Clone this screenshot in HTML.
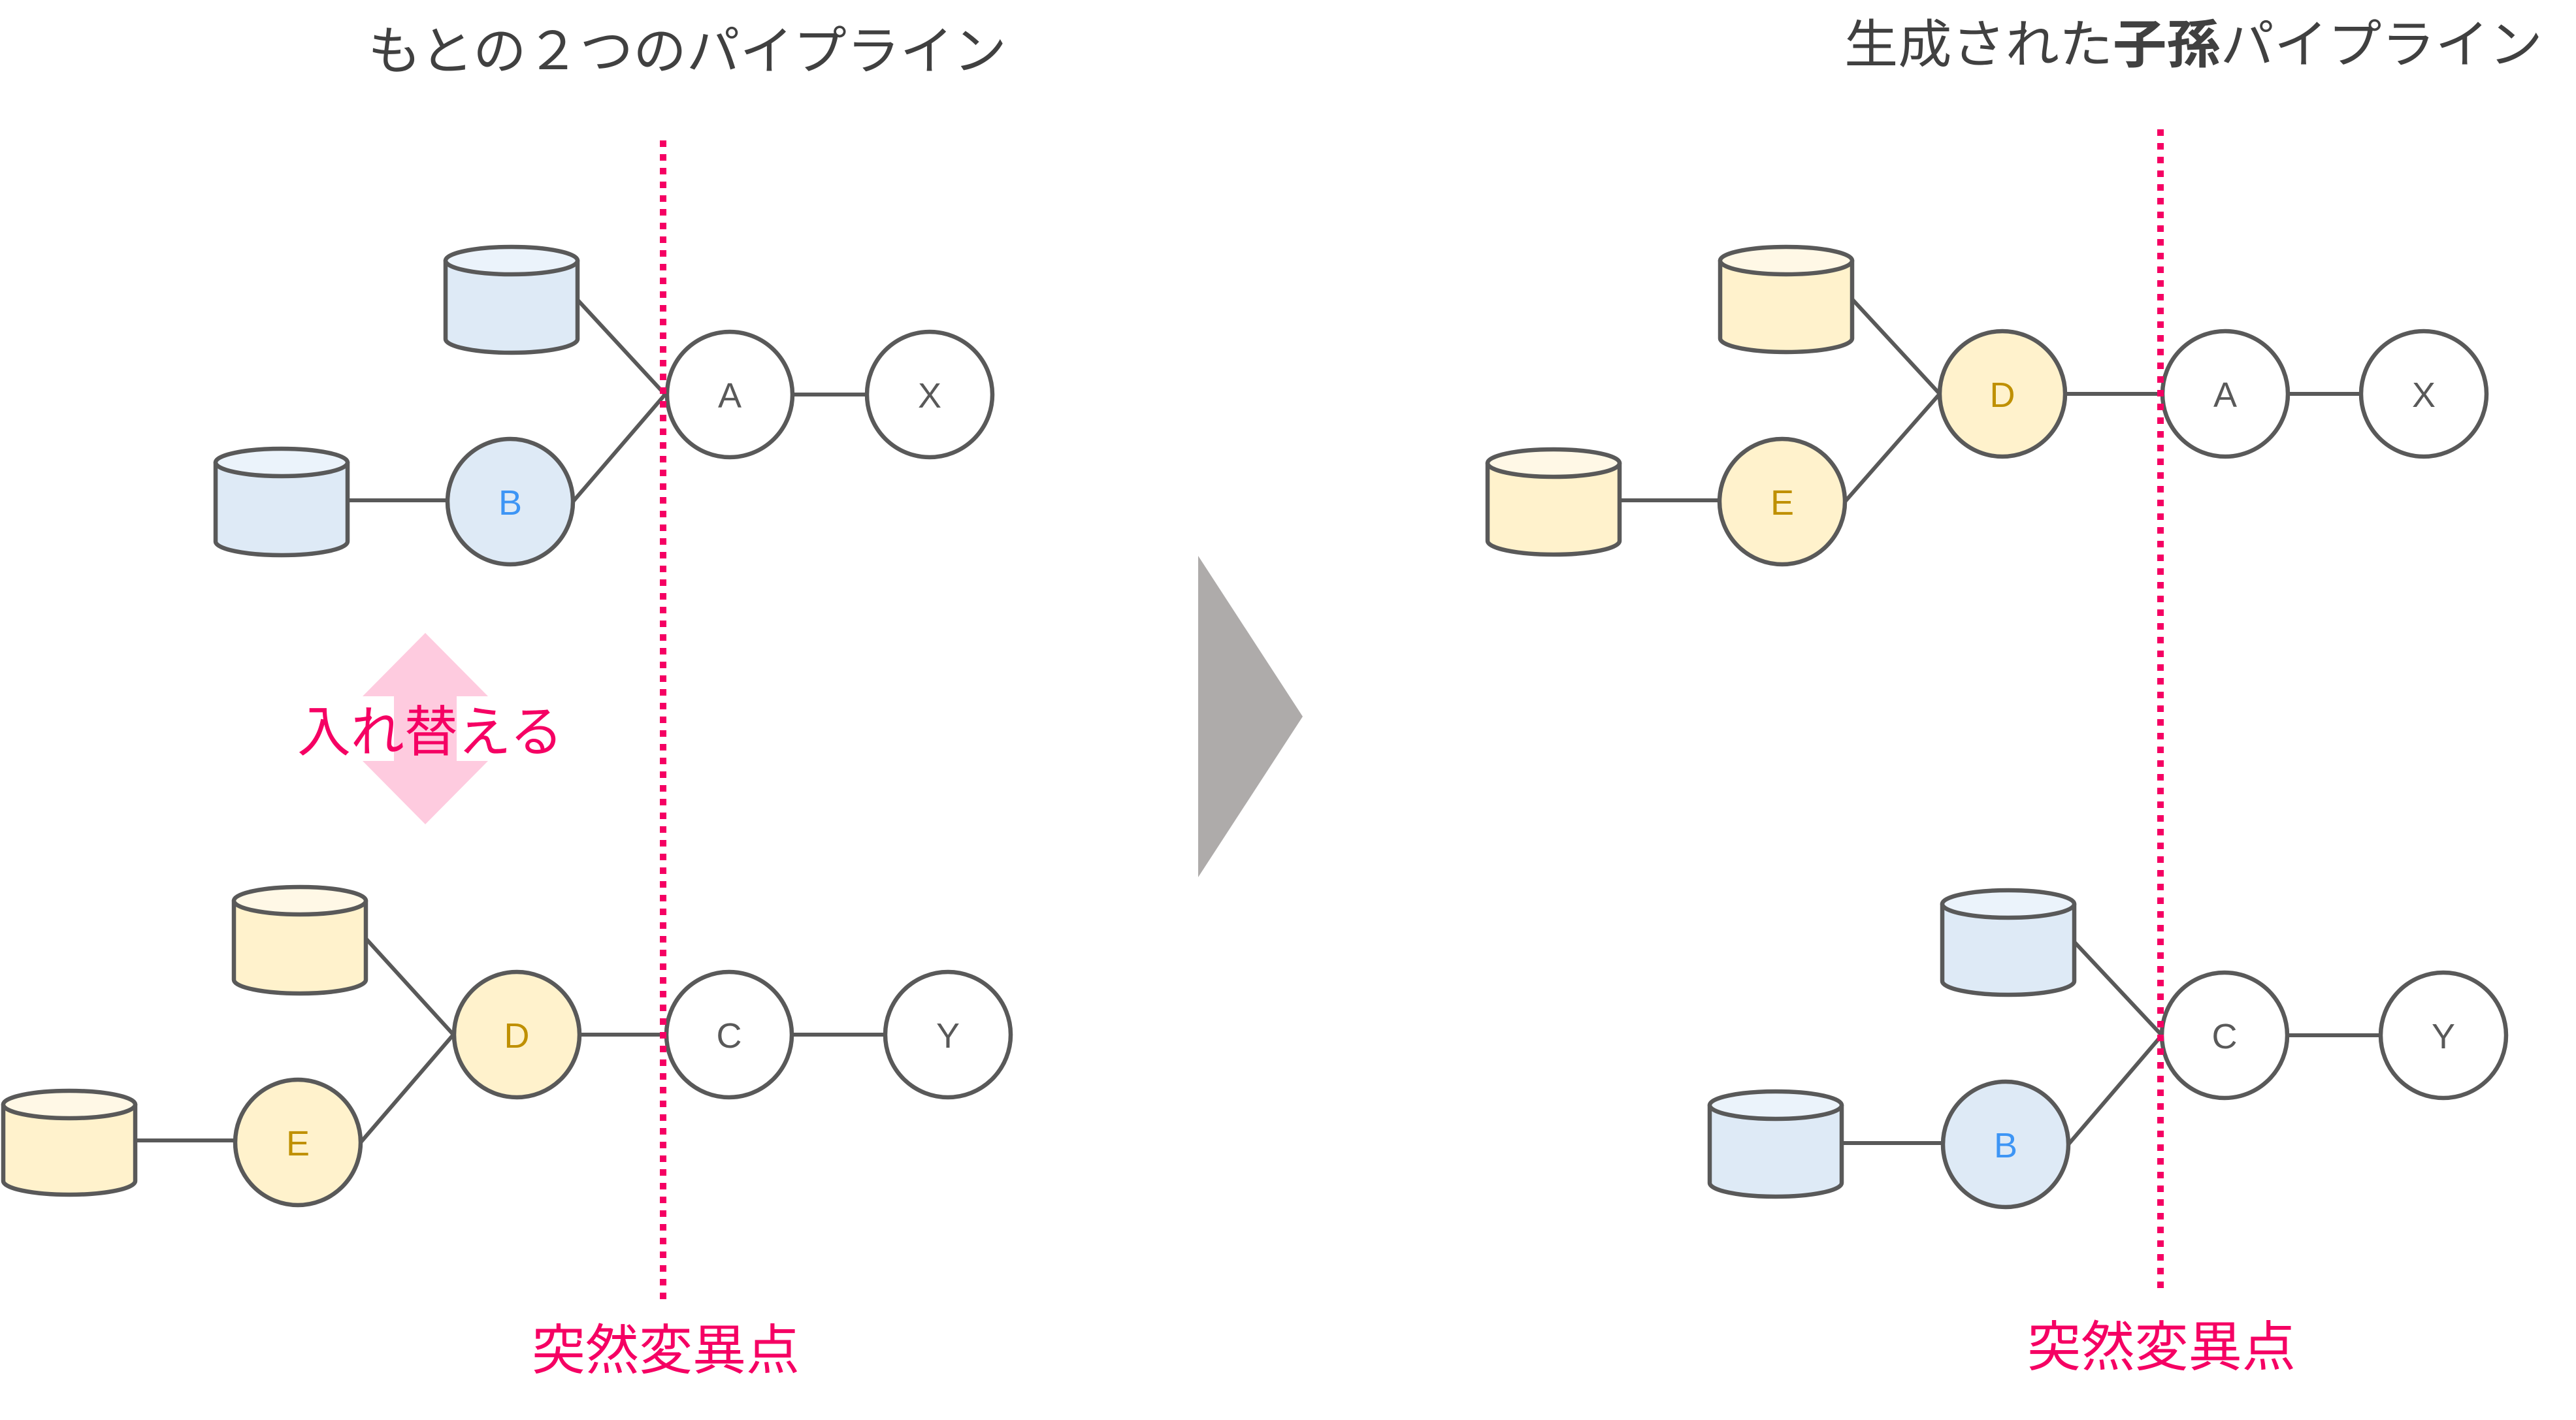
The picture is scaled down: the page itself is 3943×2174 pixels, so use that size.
<!DOCTYPE html>
<html>
<head>
<meta charset="utf-8">
<style>
  html, body { margin:0; padding:0; background:#ffffff; }
  svg { display:block; }
  .jp { font-family: "Liberation Sans", "Noto Sans CJK JP", sans-serif; }
  .lbl { font-family: "Liberation Sans", "Noto Sans CJK JP", sans-serif; font-size:54px; text-anchor:middle; }
</style>
</head>
<body>
<svg width="3943" height="2174" viewBox="0 0 3943 2174" xmlns="http://www.w3.org/2000/svg">
  <rect x="0" y="0" width="3943" height="2174" fill="#ffffff"/>

  <!-- Titles -->
  <text class="jp" x="563" y="106" font-size="80" fill="#404040" textLength="978" lengthAdjust="spacingAndGlyphs">もとの２つのパイプライン</text>
  <text class="jp" x="2823" y="96" font-size="80" fill="#404040" textLength="1069" lengthAdjust="spacingAndGlyphs">生成された<tspan font-weight="bold">子孫</tspan>パイプライン</text>

  <!-- Gray triangle -->
  <polygon points="1834,851 1994,1097 1834,1343" fill="#AEABAA"/>

  <!-- Pink double arrow -->
  <polygon points="651,969 747,1066 699,1066 699,1165 747,1165 651,1262 555,1165 603,1165 603,1066 555,1066" fill="#FECBDF"/>
  <text class="jp" x="455" y="1150" font-size="84" fill="#F50063" textLength="407" lengthAdjust="spacingAndGlyphs">入れ替える</text>

  <g stroke="#595959" stroke-width="6" fill="none" stroke-linecap="round" stroke-linejoin="round">
    <!-- ===== LEFT TOP ===== -->
    <line x1="884" y1="459" x2="1018" y2="604"/>
    <line x1="877" y1="768" x2="1018" y2="604"/>
    <line x1="532" y1="766" x2="685" y2="766"/>
    <line x1="1213" y1="604" x2="1327" y2="604"/>

    <!-- ===== LEFT BOTTOM ===== -->
    <line x1="561" y1="1438" x2="694" y2="1584"/>
    <line x1="552" y1="1749" x2="694" y2="1584"/>
    <line x1="207" y1="1746" x2="360" y2="1746"/>
    <line x1="887" y1="1584" x2="1020" y2="1584"/>
    <line x1="1212" y1="1584" x2="1355" y2="1584"/>

    <!-- ===== RIGHT TOP ===== -->
    <line x1="2835" y1="458" x2="2969" y2="603"/>
    <line x1="2824" y1="768" x2="2969" y2="603"/>
    <line x1="2479" y1="766" x2="2632" y2="766"/>
    <line x1="3161" y1="603" x2="3310" y2="603"/>
    <line x1="3502" y1="603" x2="3614" y2="603"/>

    <!-- ===== RIGHT BOTTOM ===== -->
    <line x1="3175" y1="1442" x2="3309" y2="1585"/>
    <line x1="3166" y1="1752" x2="3309" y2="1585"/>
    <line x1="2819" y1="1750" x2="2974" y2="1750"/>
    <line x1="3501" y1="1585" x2="3644" y2="1585"/>
  </g>

  <!-- Cylinders -->
  <g stroke="#595959" stroke-width="6.5" stroke-linejoin="round">
    <!-- Left top blue -->
    <path d="M682,399 L682,519 A101,21 0 0 0 884,519 L884,399 Z" fill="#DEEAF6"/>
    <ellipse cx="783" cy="399" rx="101" ry="21" fill="#EBF3FB"/>
    <!-- Left second blue -->
    <path d="M330,708 L330,829 A101,21 0 0 0 532,829 L532,708 Z" fill="#DEEAF6"/>
    <ellipse cx="431" cy="708" rx="101" ry="21" fill="#EBF3FB"/>

    <!-- Left yellow -->
    <path d="M358,1379 L358,1500 A101,21 0 0 0 560,1500 L560,1379 Z" fill="#FFF2CC"/>
    <ellipse cx="459" cy="1379" rx="101" ry="21" fill="#FFF8E6"/>
    <!-- Left bottom yellow -->
    <path d="M5,1691 L5,1808 A101,21 0 0 0 207,1808 L207,1691 Z" fill="#FFF2CC"/>
    <ellipse cx="106" cy="1691" rx="101" ry="21" fill="#FFF8E6"/>

    <!-- Right top yellow -->
    <path d="M2633,399 L2633,518 A101,21 0 0 0 2835,518 L2835,399 Z" fill="#FFF2CC"/>
    <ellipse cx="2734" cy="399" rx="101" ry="21" fill="#FFF8E6"/>
    <!-- Right second yellow -->
    <path d="M2277,709 L2277,828 A101,21 0 0 0 2479,828 L2479,709 Z" fill="#FFF2CC"/>
    <ellipse cx="2378" cy="709" rx="101" ry="21" fill="#FFF8E6"/>

    <!-- Right bottom blue -->
    <path d="M2973,1384 L2973,1502 A101,21 0 0 0 3175,1502 L3175,1384 Z" fill="#DEEAF6"/>
    <ellipse cx="3074" cy="1384" rx="101" ry="21" fill="#EBF3FB"/>
    <!-- Right bottom second blue -->
    <path d="M2617,1692 L2617,1811 A101,21 0 0 0 2819,1811 L2819,1692 Z" fill="#DEEAF6"/>
    <ellipse cx="2718" cy="1692" rx="101" ry="21" fill="#EBF3FB"/>
  </g>

  <!-- Circles -->
  <g stroke="#595959" stroke-width="6.5">
    <!-- left -->
    <circle cx="1117" cy="604" r="96" fill="#ffffff"/>
    <circle cx="1423" cy="604" r="96" fill="#ffffff"/>
    <circle cx="781" cy="768" r="96" fill="#DEEAF6"/>
    <circle cx="791" cy="1584" r="96" fill="#FFF2CC"/>
    <circle cx="1116" cy="1584" r="96" fill="#ffffff"/>
    <circle cx="1451" cy="1584" r="96" fill="#ffffff"/>
    <circle cx="456" cy="1749" r="96" fill="#FFF2CC"/>
    <!-- right -->
    <circle cx="3065" cy="603" r="96" fill="#FFF2CC"/>
    <circle cx="3406" cy="603" r="96" fill="#ffffff"/>
    <circle cx="3710" cy="603" r="96" fill="#ffffff"/>
    <circle cx="2728" cy="768" r="96" fill="#FFF2CC"/>
    <circle cx="3405" cy="1585" r="96" fill="#ffffff"/>
    <circle cx="3740" cy="1585" r="96" fill="#ffffff"/>
    <circle cx="3070" cy="1752" r="96" fill="#DEEAF6"/>
  </g>

  <!-- Node labels -->
  <g class="lbl">
    <text x="1117" y="624" fill="#595959">A</text>
    <text x="1423" y="624" fill="#595959">X</text>
    <text x="781" y="788" fill="#3D95F5">B</text>
    <text x="791" y="1604" fill="#BF9000">D</text>
    <text x="1116" y="1604" fill="#595959">C</text>
    <text x="1451" y="1604" fill="#595959">Y</text>
    <text x="456" y="1769" fill="#BF9000">E</text>

    <text x="3065" y="623" fill="#BF9000">D</text>
    <text x="3406" y="623" fill="#595959">A</text>
    <text x="3710" y="623" fill="#595959">X</text>
    <text x="2728" y="788" fill="#BF9000">E</text>
    <text x="3405" y="1605" fill="#595959">C</text>
    <text x="3740" y="1605" fill="#595959">Y</text>
    <text x="3070" y="1772" fill="#3D95F5">B</text>
  </g>

  <!-- Dotted mutation lines -->
  <line x1="1015" y1="215" x2="1015" y2="1998" stroke="#F50063" stroke-width="10" stroke-dasharray="10 11"/>
  <line x1="3307" y1="198" x2="3307" y2="1980" stroke="#F50063" stroke-width="10" stroke-dasharray="10 11"/>

  <!-- Mutation labels -->
  <text class="jp" x="814" y="2096" font-size="83" fill="#F50063" textLength="410" lengthAdjust="spacingAndGlyphs">突然変異点</text>
  <text class="jp" x="3103" y="2091" font-size="83" fill="#F50063" textLength="411" lengthAdjust="spacingAndGlyphs">突然変異点</text>
</svg>
</body>
</html>
